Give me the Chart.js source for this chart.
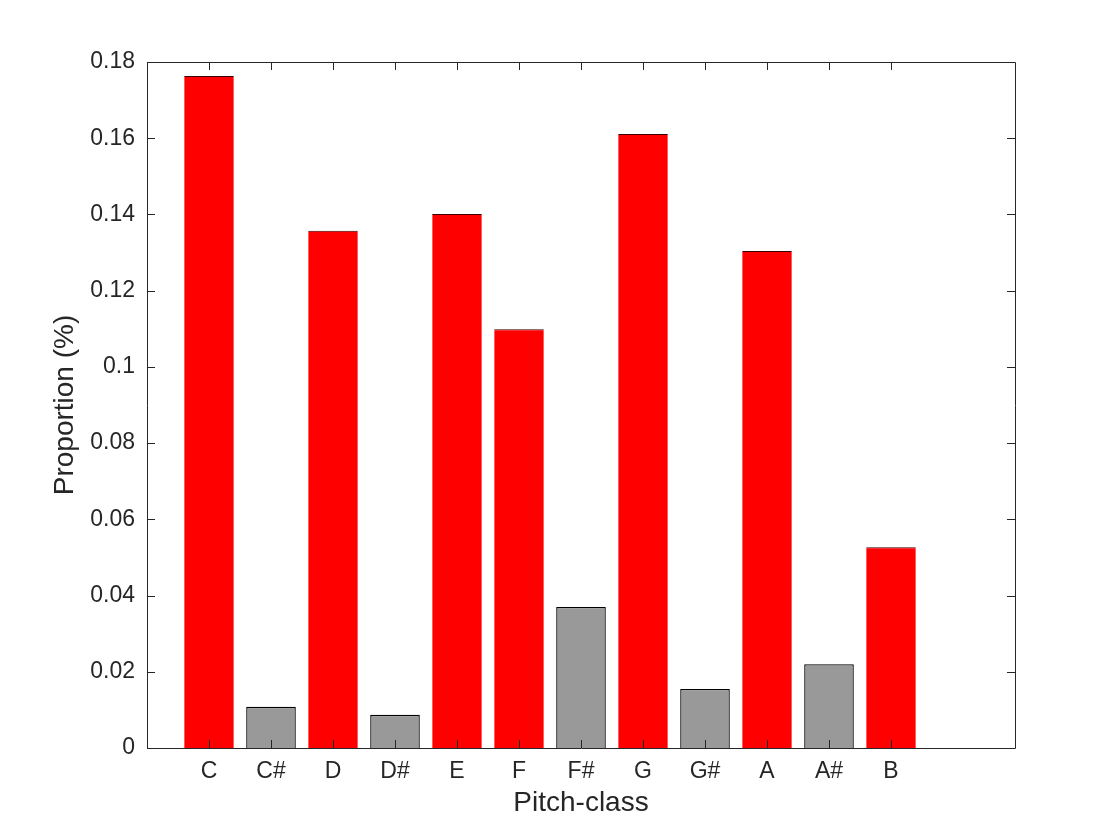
<!DOCTYPE html>
<html>
<head>
<meta charset="utf-8">
<script src="https://cdn.jsdelivr.net/npm/chart.js@4"></script>
<style>
  body { margin: 0; background: #fff; }
  #wrap { width: 1120px; height: 840px; }
</style>
</head>
<body>
<div id="wrap"><canvas id="pitchChart" width="1120" height="840"></canvas></div>
<script>
// Pitch-class proportions
const pitchClasses = ["C", "C#", "D", "D#", "E", "F", "F#", "G", "G#", "A", "A#", "B"];
const proportions = [0.1763, 0.0108, 0.1357, 0.0087, 0.1401, 0.1099, 0.0370, 0.1611, 0.0155, 0.1304, 0.0220, 0.0527];
const yTicks = [0, 0.02, 0.04, 0.06, 0.08, 0.1, 0.12, 0.14, 0.16, 0.18];

const textColor = "#262626";
const fontFamily = "'Liberation Sans', Arial, Helvetica, sans-serif";

function isSharp(i) {
  return pitchClasses[i].indexOf("#") !== -1;
}

// box around the plot area with MATLAB style inward ticks
const boxTicks = {
  id: "boxTicks",
  afterDraw(chart) {
    const ctx = chart.ctx;
    const area = chart.chartArea;
    const xs = chart.scales.x;
    const ys = chart.scales.y;
    const len = 8;
    ctx.save();
    ctx.strokeStyle = textColor;
    ctx.lineWidth = 1;
    ctx.beginPath();
    ctx.rect(area.left + 0.5, area.top + 0.5, area.right - area.left, area.bottom - area.top);
    pitchClasses.forEach(function (p, i) {
      const x = Math.round(xs.getPixelForValue(i + 1)) + 0.5;
      ctx.moveTo(x, area.bottom);
      ctx.lineTo(x, area.bottom - len);
      ctx.moveTo(x, area.top);
      ctx.lineTo(x, area.top + len);
    });
    yTicks.forEach(function (v) {
      const y = Math.round(ys.getPixelForValue(v)) + 0.5;
      ctx.moveTo(area.left, y);
      ctx.lineTo(area.left + len, y);
      ctx.moveTo(area.right, y);
      ctx.lineTo(area.right - len, y);
    });
    ctx.stroke();
    ctx.restore();
  }
};

new Chart(document.getElementById("pitchChart"), {
  type: "bar",
  data: {
    datasets: [{
      data: proportions.map((v, i) => ({ x: i + 1, y: v })),
      backgroundColor: ctx => isSharp(ctx.dataIndex) ? "#999999" : "#ff0000",
      borderColor: ctx => isSharp(ctx.dataIndex) ? "#000000" : "#3a0000",
      borderWidth: ctx => isSharp(ctx.dataIndex) ? 1.3 : { top: 1, left: 0, right: 0, bottom: 0 },
      barPercentage: 0.8,
      categoryPercentage: 1
    }]
  },
  options: {
    responsive: false,
    animation: false,
    layout: { padding: { left: 0, right: 105, top: 62, bottom: 0 } },
    plugins: {
      legend: { display: false },
      tooltip: { enabled: false }
    },
    scales: {
      x: {
        type: "linear",
        min: 0,
        max: 14,
        offset: false,
        grid: { display: false, drawTicks: false },
        border: { display: false },
        afterFit: function (scale) { scale.height = 92; },
        ticks: {
          stepSize: 1,
          autoSkip: false,
          maxRotation: 0,
          padding: 10,
          color: textColor,
          font: { family: fontFamily, size: 23 },
          callback: function (v) {
            return v >= 1 && v <= pitchClasses.length ? pitchClasses[v - 1] : "";
          }
        },
        title: {
          display: true,
          text: "Pitch-class",
          color: textColor,
          font: { family: fontFamily, size: 28 },
          padding: { top: 0, bottom: 20 }
        }
      },
      y: {
        min: 0,
        max: 0.18,
        grid: { display: false, drawTicks: false },
        border: { display: false },
        afterFit: function (scale) { scale.width = 147; },
        afterBuildTicks: function (scale) {
          scale.ticks = yTicks.map(v => ({ value: v }));
        },
        ticks: {
          padding: 12,
          color: textColor,
          font: { family: fontFamily, size: 23 },
          callback: function (v) { return String(Number(v.toFixed(2))); }
        },
        title: {
          display: true,
          text: "Proportion (%)",
          color: textColor,
          font: { family: fontFamily, size: 28 },
          padding: { top: 48, bottom: 0 }
        }
      }
    }
  },
  plugins: [boxTicks]
});
</script>
</body>
</html>
